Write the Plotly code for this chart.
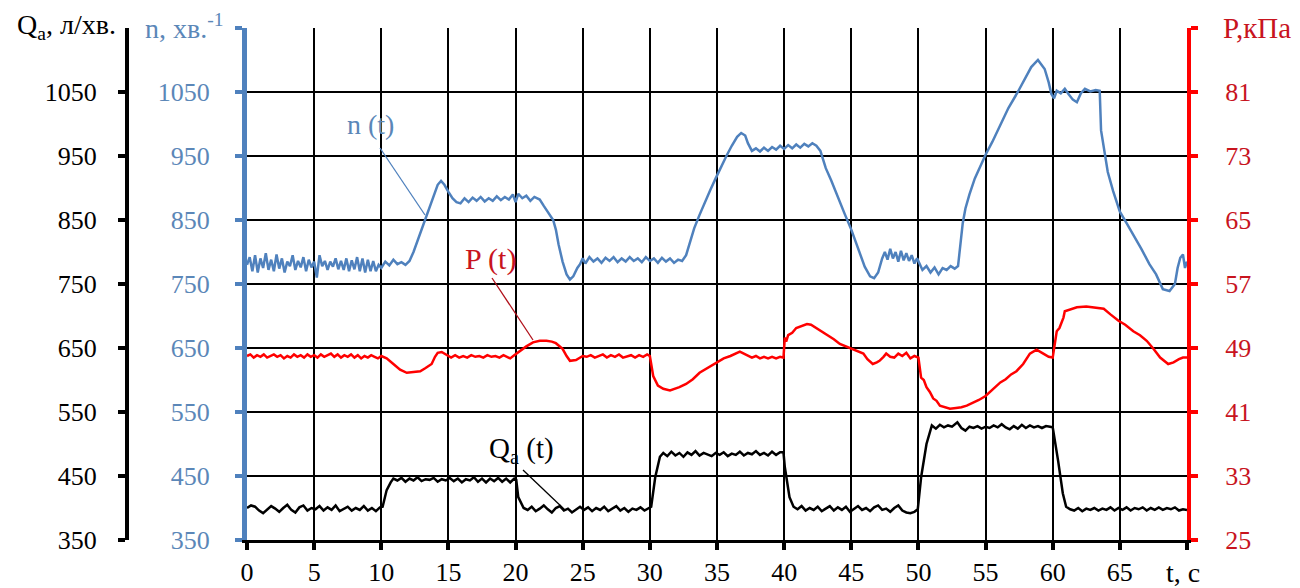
import plotly.graph_objects as go

# ---------------- data ----------------
# n(t), rpm (left blue axis)
t_n = [0.0, 0.2, 0.4, 0.6, 0.8, 1.0, 1.2, 1.4, 1.6, 1.8, 2.0, 2.2, 2.4, 2.6, 2.8, 3.0, 3.2, 3.4, 3.6, 3.8,
       4.0, 4.2, 4.4, 4.6, 4.8, 5.0, 5.2, 5.4, 5.6, 5.8, 6.0, 6.2, 6.4, 6.6, 6.8, 7.0, 7.2, 7.4, 7.6, 7.8,
       8.0, 8.2, 8.4, 8.6, 8.8, 9.0, 9.2, 9.4, 9.6, 9.8, 10.0, 10.3, 10.6, 10.9, 11.2, 11.5, 11.8, 12.1,
       12.4, 12.7, 13.0, 13.3, 13.6, 13.9, 14.2, 14.45, 14.7, 15.0, 15.3, 15.6, 15.9, 16.2, 16.5, 16.8,
       17.1, 17.4, 17.7, 18.0, 18.3, 18.6, 18.9, 19.2, 19.5, 19.8, 20.0, 20.2, 20.5, 20.8, 21.1, 21.4,
       21.8, 22.1, 22.4, 22.8, 23.0, 23.2, 23.5, 23.8, 24.05, 24.3, 24.6, 24.8, 25.0, 25.2, 25.5, 25.8,
       26.1, 26.4, 26.7, 27.0, 27.3, 27.6, 27.9, 28.2, 28.5, 28.8, 29.1, 29.4, 29.7, 30.0, 30.3, 30.6,
       30.9, 31.2, 31.5, 31.8, 32.1, 32.4, 32.7, 33.0, 33.3, 33.7, 34.1, 34.5, 34.9, 35.3, 35.7, 36.1,
       36.5, 36.8, 37.1, 37.3, 37.6, 37.9, 38.2, 38.5, 38.8, 39.1, 39.4, 39.7, 40.0, 40.3, 40.6, 40.9,
       41.2, 41.5, 41.8, 42.1, 42.4, 42.7, 43.1, 43.5, 44.0, 44.5, 45.0, 45.5, 46.0, 46.4, 46.7, 47.0,
       47.3, 47.5, 47.7, 47.9, 48.1, 48.3, 48.5, 48.7, 48.9, 49.1, 49.3, 49.5, 49.7, 49.9, 50.1, 50.3,
       50.6, 50.9, 51.2, 51.5, 51.8, 52.1, 52.4, 52.7, 52.95, 53.1, 53.3, 53.5, 53.8, 54.2, 54.6, 55.0,
       55.5, 56.1, 56.7, 57.4, 57.9, 58.4, 58.9, 59.4, 59.7, 59.9, 60.1, 60.3, 60.6, 60.9, 61.2, 61.5,
       61.8, 62.1, 62.4, 62.8, 63.2, 63.5, 63.6, 63.8, 64.1, 64.5, 65.0, 65.5, 66.0, 66.6, 67.2, 67.7,
       68.2, 68.7, 69.1, 69.3, 69.5, 69.7, 69.85, 70.0]
n_vals = [780, 792, 770, 795, 768, 790, 775, 798, 772, 788, 770, 796, 774, 790, 768, 785, 778, 795, 772, 786,
          776, 792, 770, 788, 776, 785, 760, 795, 778, 786, 772, 785, 777, 790, 773, 786, 772, 790, 770, 787,
          773, 792, 770, 790, 768, 788, 770, 786, 770, 780, 775, 785, 779, 788, 781, 784, 780, 786,
          800, 818, 836, 853, 872, 890, 905, 911, 905, 894, 884, 878, 876, 884, 878, 885,
          880, 886, 879, 884, 880, 887, 881, 886, 882, 890, 878, 891, 884, 888, 880, 886,
          882, 872, 862, 850, 835, 812, 785, 765, 757, 762, 775, 781, 790, 782, 792, 785,
          790, 783, 791, 786, 792, 784, 790, 785, 792, 786, 790, 784, 792, 786, 790, 783,
          791, 785, 790, 783, 788, 786, 795, 815, 837, 858, 878, 897, 915, 933, 950, 966,
          980, 986, 982, 970, 958, 962, 957, 963, 958, 964, 960, 966, 961, 967, 962, 968,
          963, 969, 965, 970, 966, 958, 931, 912, 885, 860, 835, 805, 777, 762, 759, 768,
          790, 800, 788, 805, 790, 800, 785, 802, 787, 798, 786, 795, 782, 790, 780, 772,
          778, 768, 776, 765, 775, 772, 778, 774, 778, 810, 845, 868, 890, 915, 935, 952,
          972, 998, 1025, 1050, 1070, 1089, 1100, 1086, 1065, 1047, 1040, 1052, 1048, 1055, 1046, 1038,
          1034, 1048, 1055, 1051, 1053, 1052, 990, 962, 925, 895, 863, 845, 827, 805, 781, 765,
          742, 739, 750, 775, 791, 796, 775, 785]

# Qa(t), l/min (left black axis)
t_q = [0.0, 0.3, 0.6, 0.9, 1.2, 1.5, 1.8, 2.1, 2.4, 2.7, 3.0, 3.3, 3.6, 3.9, 4.2, 4.5, 4.8, 5.1, 5.4, 5.7,
       6.0, 6.3, 6.6, 6.9, 7.2, 7.5, 7.8, 8.1, 8.4, 8.7, 9.0, 9.3, 9.6, 9.9, 10.1, 10.4, 10.7, 10.9, 11.2,
       11.5, 11.8, 12.1, 12.4, 12.7, 13.0, 13.3, 13.6, 13.9, 14.2, 14.5, 14.8, 15.1, 15.4, 15.7, 16.0, 16.3,
       16.6, 16.9, 17.2, 17.5, 17.8, 18.1, 18.4, 18.7, 19.0, 19.3, 19.6, 19.9, 20.05, 20.2, 20.6, 20.9, 21.2,
       21.5, 21.8, 22.1, 22.4, 22.7, 23.0, 23.3, 23.6, 23.9, 24.2, 24.5, 24.8, 25.1, 25.4, 25.7, 26.0, 26.3,
       26.6, 26.9, 27.2, 27.5, 27.8, 28.1, 28.4, 28.7, 29.0, 29.3, 29.6, 29.9, 30.1, 30.4, 30.75, 31.0, 31.3,
       31.6, 31.9, 32.2, 32.5, 32.8, 33.1, 33.4, 33.7, 34.0, 34.3, 34.6, 34.9, 35.2, 35.5, 35.8, 36.1, 36.4,
       36.7, 37.0, 37.3, 37.6, 37.9, 38.2, 38.5, 38.8, 39.1, 39.4, 39.7, 39.95, 40.05, 40.4, 40.7, 41.0, 41.3,
       41.6, 41.9, 42.2, 42.5, 42.8, 43.1, 43.4, 43.7, 44.0, 44.3, 44.6, 44.9, 45.2, 45.5, 45.8, 46.1, 46.4,
       46.7, 47.0, 47.3, 47.6, 47.9, 48.2, 48.5, 48.8, 49.1, 49.4, 49.7, 49.95, 50.2, 50.6, 51.0, 51.3, 51.6,
       51.9, 52.2, 52.5, 52.9, 53.2, 53.5, 53.8, 54.1, 54.4, 54.7, 55.0, 55.3, 55.6, 55.9, 56.2, 56.5, 56.8,
       57.1, 57.4, 57.7, 58.0, 58.3, 58.6, 58.9, 59.2, 59.5, 59.8, 60.0, 60.4, 60.75, 61.0, 61.3, 61.6, 61.9,
       62.2, 62.5, 62.8, 63.1, 63.4, 63.7, 64.0, 64.3, 64.6, 64.9, 65.2, 65.5, 65.8, 66.1, 66.4, 66.7, 67.0,
       67.3, 67.6, 67.9, 68.2, 68.5, 68.8, 69.1, 69.4, 69.7, 70.0]
q_vals = [400, 404, 402, 396, 392, 398, 403, 399, 394, 400, 405, 397, 393, 401, 404, 396, 400, 398, 403, 396,
          401, 397, 404, 395, 399, 402, 396, 400, 397, 403, 396, 400, 395, 401, 402, 428, 440, 446, 443,
          447, 441, 446, 443, 448, 442, 445, 444, 447, 441, 445, 443, 447, 442, 446, 440, 445,
          443, 448, 441, 446, 440, 446, 442, 447, 441, 446, 440, 446, 444, 417, 400, 397, 402,
          395, 399, 404, 398, 393, 400, 403, 396, 399, 393, 398, 402, 397, 401, 395, 400, 397,
          402, 395, 399, 403, 396, 400, 394, 399, 397, 401, 396, 400, 402, 448, 480, 486, 481,
          488, 482, 486, 480, 487, 483, 489, 482, 486, 484, 481, 486, 483, 487, 481, 485, 483,
          488, 482, 486, 484, 489, 483, 486, 482, 488, 483, 487, 487, 464, 417, 402, 398, 403,
          396, 400, 397, 402, 395, 399, 403, 396, 401, 397, 402, 394, 399, 403, 397, 400, 395,
          401, 404, 397, 399, 394, 400, 404, 396, 393, 392, 394, 398, 448, 500, 529, 524, 530,
          526, 529, 527, 534, 525, 521, 527, 525, 528, 524, 527, 525, 529, 526, 531, 526, 523,
          528, 524, 530, 525, 529, 526, 528, 525, 528, 527, 526, 474, 423, 402, 398, 396, 400,
          395, 399, 397, 400, 396, 399, 397, 401, 396, 400, 397, 401, 396, 400, 398, 401, 396,
          400, 397, 401, 397, 400, 398, 401, 396, 398, 397]

# P(t), kPa (right red axis)
t_p = [0.0, 0.25, 0.5, 0.75, 1.0, 1.25, 1.5, 1.75, 2.0, 2.25, 2.5, 2.75, 3.0, 3.25, 3.5, 3.75, 4.0, 4.25,
       4.5, 4.75, 5.0, 5.25, 5.5, 5.75, 6.0, 6.25, 6.5, 6.75, 7.0, 7.25, 7.5, 7.75, 8.0, 8.25, 8.5, 8.75,
       9.0, 9.25, 9.5, 9.75, 10.0, 10.4, 10.9, 11.4, 11.9, 12.4, 12.9, 13.3, 13.75, 14.0, 14.2, 14.5, 14.7,
       14.9, 15.2, 15.5, 15.8, 16.1, 16.4, 16.7, 17.0, 17.3, 17.6, 17.9, 18.2, 18.5, 18.8, 19.1, 19.4, 19.6,
       19.9, 20.3, 20.8, 21.3, 21.8, 22.3, 22.7, 23.0, 23.5, 23.8, 24.05, 24.5, 25.0, 25.3, 25.6, 25.9,
       26.2, 26.5, 26.8, 27.1, 27.4, 27.7, 28.0, 28.3, 28.6, 28.9, 29.2, 29.5, 29.8, 30.0, 30.25, 30.6,
       31.0, 31.5, 32.2, 32.7, 33.2, 33.7, 34.2, 34.6, 35.0, 35.5, 36.0, 36.4, 36.7, 37.0, 37.3, 37.6,
       37.9, 38.2, 38.5, 38.8, 39.1, 39.4, 39.7, 39.95, 40.05, 40.15, 40.3, 40.6, 40.9, 41.3, 41.7, 42.0,
       42.4, 42.8, 43.2, 43.7, 44.15, 44.6, 45.0, 45.5, 45.9, 46.2, 46.6, 46.9, 47.1, 47.4, 47.6, 47.9,
       48.2, 48.5, 48.8, 49.1, 49.4, 49.7, 50.0, 50.2, 50.4, 50.6, 50.85, 51.1, 51.35, 51.6, 52.0, 52.35,
       52.8, 53.2, 53.6, 54.0, 54.5, 55.0, 55.5, 56.1, 56.5, 56.9, 57.3, 57.8, 58.3, 58.8, 59.3, 59.7,
       60.0, 60.2, 60.3, 60.5, 60.8, 60.9, 61.3, 61.8, 62.5, 63.1, 63.8, 64.3, 64.9, 65.4, 66.0, 66.5,
       67.0, 67.5, 68.0, 68.6, 69.0, 69.4, 69.7, 70.0]
p_vals = [48.0, 48.2, 47.8, 48.1, 47.9, 48.2, 47.8, 48.0, 48.2, 47.9, 48.1, 47.7, 48.0, 47.8, 48.2, 47.9, 48.1, 47.8,
          48.2, 47.9, 48.1, 47.8, 48.2, 47.9, 48.1, 48.3, 47.9, 48.2, 47.8, 48.1, 47.9, 48.2, 47.8, 48.1, 47.7, 48.0,
          47.8, 48.1, 47.9, 47.7, 48.0, 47.7, 47.0, 46.3, 45.9, 46.0, 46.1, 46.5, 47.0, 47.9, 48.4, 48.5, 48.3,
          48.0, 47.8, 48.1, 47.8, 48.0, 47.8, 48.1, 47.9, 48.0, 47.8, 48.1, 47.9, 48.0, 47.8, 48.1, 47.9, 47.7,
          48.1, 48.6, 49.2, 49.7, 49.9, 49.9, 49.8, 49.6, 48.9, 48.0, 47.4, 47.5, 48.0, 47.9, 48.1, 47.8,
          48.0, 48.2, 47.8, 48.1, 47.9, 48.2, 47.8, 48.0, 48.1, 47.8, 48.1, 47.9, 48.2, 48.0, 45.5, 44.3,
          43.9, 43.7, 44.1, 44.5, 45.1, 45.9, 46.4, 46.9, 47.2, 47.7, 48.0, 48.3, 48.55, 48.3, 48.0, 47.8,
          48.0, 47.7, 47.9, 47.7, 47.9, 47.7, 47.9, 47.8, 50.3, 49.8, 50.6, 50.9, 51.5, 51.8, 52.0, 51.9,
          51.5, 51.1, 50.7, 50.1, 49.5, 49.2, 48.9, 48.6, 48.3, 47.6, 47.0, 47.2, 47.4, 47.9, 48.3, 47.9,
          47.8, 48.3, 48.0, 48.4, 47.7, 48.0, 47.8, 45.3, 45.0, 44.1, 43.5, 42.7, 42.4, 41.8, 41.6, 41.4,
          41.5, 41.6, 41.8, 42.1, 42.5, 43.0, 43.8, 44.7, 45.1, 45.7, 46.1, 47.0, 48.3, 48.8, 48.3, 47.9,
          47.8, 50.0, 51.1, 51.5, 52.8, 53.6, 53.8, 54.1, 54.2, 54.1, 53.9, 53.2, 52.4, 51.9, 51.1, 50.6,
          49.9, 48.9, 47.8, 47.0, 47.2, 47.6, 47.8, 47.8]

t_ticks = [0, 5, 10, 15, 20, 25, 30, 35, 40, 45, 50, 55, 60, 65, 70]
t_labels = ["0", "5", "10", "15", "20", "25", "30", "35", "40", "45", "50", "55", "60", "65", ""]
n_ticks = [350, 450, 550, 650, 750, 850, 950, 1050, 1150]
n_labels = ["350", "450", "550", "650", "750", "850", "950", "1050", ""]
q_ticks = [350, 450, 550, 650, 750, 850, 950, 1050]
p_ticks = [25, 33, 41, 49, 57, 65, 73, 81, 89]
p_labels = ["25", "33", "41", "49", "57", "65", "73", "81", ""]

# ---------------- styling ----------------
W, H = 1300, 588
BLUE = "#4F81BD"
BLUE_TXT = "#5B87B8"
RED = "#FF0000"
RED_TXT = "#C8141E"
FONT = "Liberation Serif"
FS = 26


def px(x):
    return x / W


def py(y):
    return 1 - y / H


x_dom = [px(247), px(1187)]
y_dom = [py(540), py(28)]

fig = go.Figure()
fig.add_trace(go.Scatter(x=t_q, y=q_vals, yaxis="y2", mode="lines",
                         line=dict(color="black", width=2.5), showlegend=False))
fig.add_trace(go.Scatter(x=t_p, y=p_vals, yaxis="y3", mode="lines",
                         line=dict(color=RED, width=2.5), showlegend=False))
fig.add_trace(go.Scatter(x=t_n, y=n_vals, yaxis="y", mode="lines",
                         line=dict(color=BLUE, width=2.5), showlegend=False))

fig.update_layout(
    template="none",
    width=W, height=H, autosize=False,
    margin=dict(l=0, r=0, t=0, b=0, pad=0),
    paper_bgcolor="white", plot_bgcolor="white",
    font=dict(family=FONT, size=FS, color="black"),
    xaxis=dict(domain=x_dom, range=[0, 70], tickvals=t_ticks, ticktext=t_labels, automargin=False,
               showgrid=True, gridcolor="black", gridwidth=1.8, zeroline=False,
               showline=True, linecolor="black", linewidth=3,
               ticks="outside", ticklen=7, tickwidth=4, tickcolor="black",
               tickfont=dict(family=FONT, size=FS, color="black"), ticklabelstandoff=0),
    yaxis=dict(domain=y_dom, range=[350, 1150], tickvals=n_ticks, ticktext=n_labels, automargin=False,
               showgrid=True, gridcolor="black", gridwidth=1.5, zeroline=False,
               showline=True, linecolor=BLUE, linewidth=5,
               ticks="outside", ticklen=7, tickwidth=4, tickcolor=BLUE,
               tickfont=dict(family=FONT, size=FS, color=BLUE_TXT), ticklabelstandoff=20),
    yaxis2=dict(overlaying="y", anchor="free", position=px(127), side="left", automargin=False,
                range=[350, 1150], tickvals=q_ticks, showgrid=False, zeroline=False,
                showline=True, linecolor="black", linewidth=4,
                ticks="outside", ticklen=7, tickwidth=4, tickcolor="black",
                tickfont=dict(family=FONT, size=FS, color="black"), ticklabelstandoff=16),
    yaxis3=dict(overlaying="y", anchor="x", side="right", automargin=False,
                range=[25, 89], tickvals=p_ticks, ticktext=p_labels, showgrid=False, zeroline=False,
                showline=True, linecolor=RED, linewidth=4,
                ticks="outside", ticklen=7, tickwidth=4, tickcolor=RED,
                tickfont=dict(family=FONT, size=FS, color=RED_TXT), ticklabelstandoff=22),
)

annots = [
    dict(text="Q<sub>a</sub>, л/хв.", x=px(66), y=py(26), color="black", size=28),
    dict(text="n, хв.<sup>-1</sup>", x=px(184), y=py(26), color=BLUE_TXT, size=28),
    dict(text="P,кПа", x=px(1257), y=py(28), color=RED_TXT, size=29),
    dict(text="t, c", x=px(1183), y=py(572), color="black", size=28),
    dict(text="n (t)", x=px(370), y=py(125), color=BLUE_TXT, size=28),
    dict(text="P (t)", x=px(490), y=py(259), color=RED_TXT, size=30),
    dict(text="Q<sub>a</sub> (t)", x=px(521), y=py(450), color="black", size=29),
]
for a in annots:
    fig.add_annotation(text=a["text"], x=a["x"], y=a["y"], xref="paper", yref="paper",
                       xanchor="center", yanchor="middle", showarrow=False,
                       font=dict(family=FONT, size=a["size"], color=a["color"]))

leaders = [
    ((380, 148), (425, 215), BLUE),
    ((492, 278), (533, 340), "#B0101A"),
    ((523, 470), (565, 510), "black"),
]
for (x0, y0), (x1, y1), c in leaders:
    fig.add_shape(type="line", xref="paper", yref="paper",
                  x0=px(x0), y0=py(y0), x1=px(x1), y1=py(y1),
                  line=dict(color=c, width=1.3))

fig.write_html("out.html")
